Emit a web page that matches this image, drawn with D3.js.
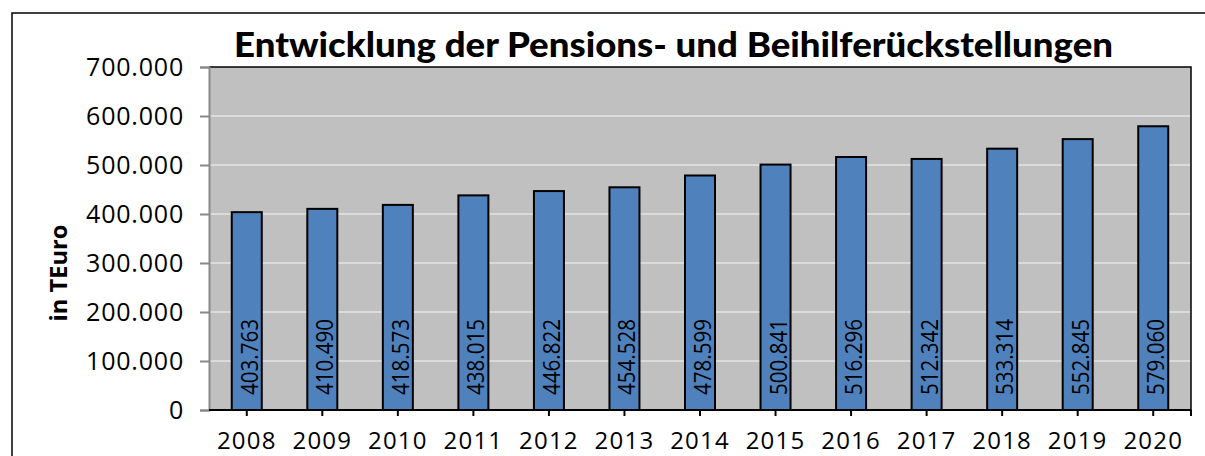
<!DOCTYPE html>
<html><head><meta charset="utf-8">
<script src="https://cdn.jsdelivr.net/npm/d3@7"></script>
<style>body{margin:0;background:#fff}svg{display:block}</style>
</head><body>
<svg id="c" width="1205" height="456"></svg>
<script>
const years = ["2008","2009","2010","2011","2012","2013","2014","2015","2016","2017","2018","2019","2020"];
const values = [403763,410490,418573,438015,446822,454528,478599,500841,516296,512342,533314,552845,579060];
const valueLabels = ["403.763","410.490","418.573","438.015","446.822","454.528","478.599","500.841","516.296","512.342","533.314","552.845","579.060"];
const yTicks = [0,100000,200000,300000,400000,500000,600000,700000];
const yTickLabels = ["0","100.000","200.000","300.000","400.000","500.000","600.000","700.000"];
const title = "Entwicklung der Pensions- und Beihilferückstellungen";
const yTitle = "in TEuro";

const svg = d3.select("#c");
const L = 209, R = 1191, T = 67, B = 410;

// outer frame
svg.append("path").attr("d", `M12,460 L12,13 L1210,13`).attr("fill","none").attr("stroke","#000").attr("stroke-width",1.5);

const xc = d3.scaleBand().domain(years).range([L, R]);
const y = d3.scaleLinear().domain([0, 700000]).range([B, T]);

svg.append("rect").attr("x",L).attr("y",T).attr("width",R-L).attr("height",B-T).attr("fill","#c0c0c0");

// gridlines
svg.append("g").selectAll("line").data(yTicks.filter(d=>d>0 && d<700000)).join("line")
  .attr("x1",L).attr("x2",R).attr("y1",d=>y(d)).attr("y2",d=>y(d))
  .attr("stroke","#e4e4e4").attr("stroke-width",1.5);

// plot border top/right
svg.append("path").attr("d",`M${L},${T} L${R},${T} L${R},${B}`).attr("fill","none").attr("stroke","#000").attr("stroke-width",1.5);

// bars
svg.append("g").selectAll("rect").data(values).join("rect")
  .attr("x",(d,i)=>xc(years[i]) + xc.bandwidth()/2 - 15)
  .attr("width",30)
  .attr("y",d=>y(d)).attr("height",d=>B-y(d))
  .attr("fill","#4f81bd").attr("stroke","#000").attr("stroke-width",2);

// value labels
svg.append("g").selectAll("text").data(valueLabels).join("text")
  .attr("transform",(d,i)=>`translate(${xc(years[i]) + xc.bandwidth()/2 + 11},395) rotate(-90)`)
  .attr("font-family","Open Sans").attr("font-size",23).attr("fill","#000")
  .attr("textLength",76).attr("lengthAdjust","spacingAndGlyphs")
  .text(d=>d);

// y axis
const yAxis = d3.axisLeft(y).tickValues(yTicks).tickFormat((d,i)=>yTickLabels[i]).tickSize(9).tickPadding(16);
const gy = svg.append("g").attr("transform",`translate(${L},0)`).call(yAxis);
gy.select(".domain").attr("stroke","#888").attr("stroke-width",2);
gy.selectAll(".tick line").attr("stroke","#888").attr("stroke-width",2);
gy.selectAll(".tick text").attr("font-family","Open Sans").attr("font-size",25).attr("fill","#000").attr("letter-spacing",0.8);

// x axis
const xAxis = d3.axisBottom(xc).tickSize(6).tickPadding(18);
const gx = svg.append("g").attr("transform",`translate(0,${B})`).call(xAxis);
gx.select(".domain").attr("stroke","#000").attr("stroke-width",2).attr("d",`M${L},0H${R}`);
gx.selectAll(".tick line").attr("stroke","#000").attr("stroke-width",2);
gx.selectAll(".tick text").attr("font-family","Open Sans").attr("font-size",24).attr("fill","#000").attr("letter-spacing",1.2)
  .attr("y",39).attr("dy",null);
gx.append("line").attr("x1",R).attr("x2",R).attr("y1",0).attr("y2",6).attr("stroke","#000").attr("stroke-width",2);

// title
svg.append("text").attr("x",234).attr("y",57).attr("font-family","Lato").attr("font-weight","900")
  .attr("font-size",35).attr("fill","#000").attr("textLength",879).attr("lengthAdjust","spacingAndGlyphs").text(title);

// y title
svg.append("text").attr("transform","translate(67,273) rotate(-90)").attr("text-anchor","middle")
  .attr("font-family","Open Sans").attr("font-weight","bold").attr("font-size",23).attr("fill","#000")
  .attr("textLength",97).attr("lengthAdjust","spacingAndGlyphs").text(yTitle);
</script>
</body></html>
